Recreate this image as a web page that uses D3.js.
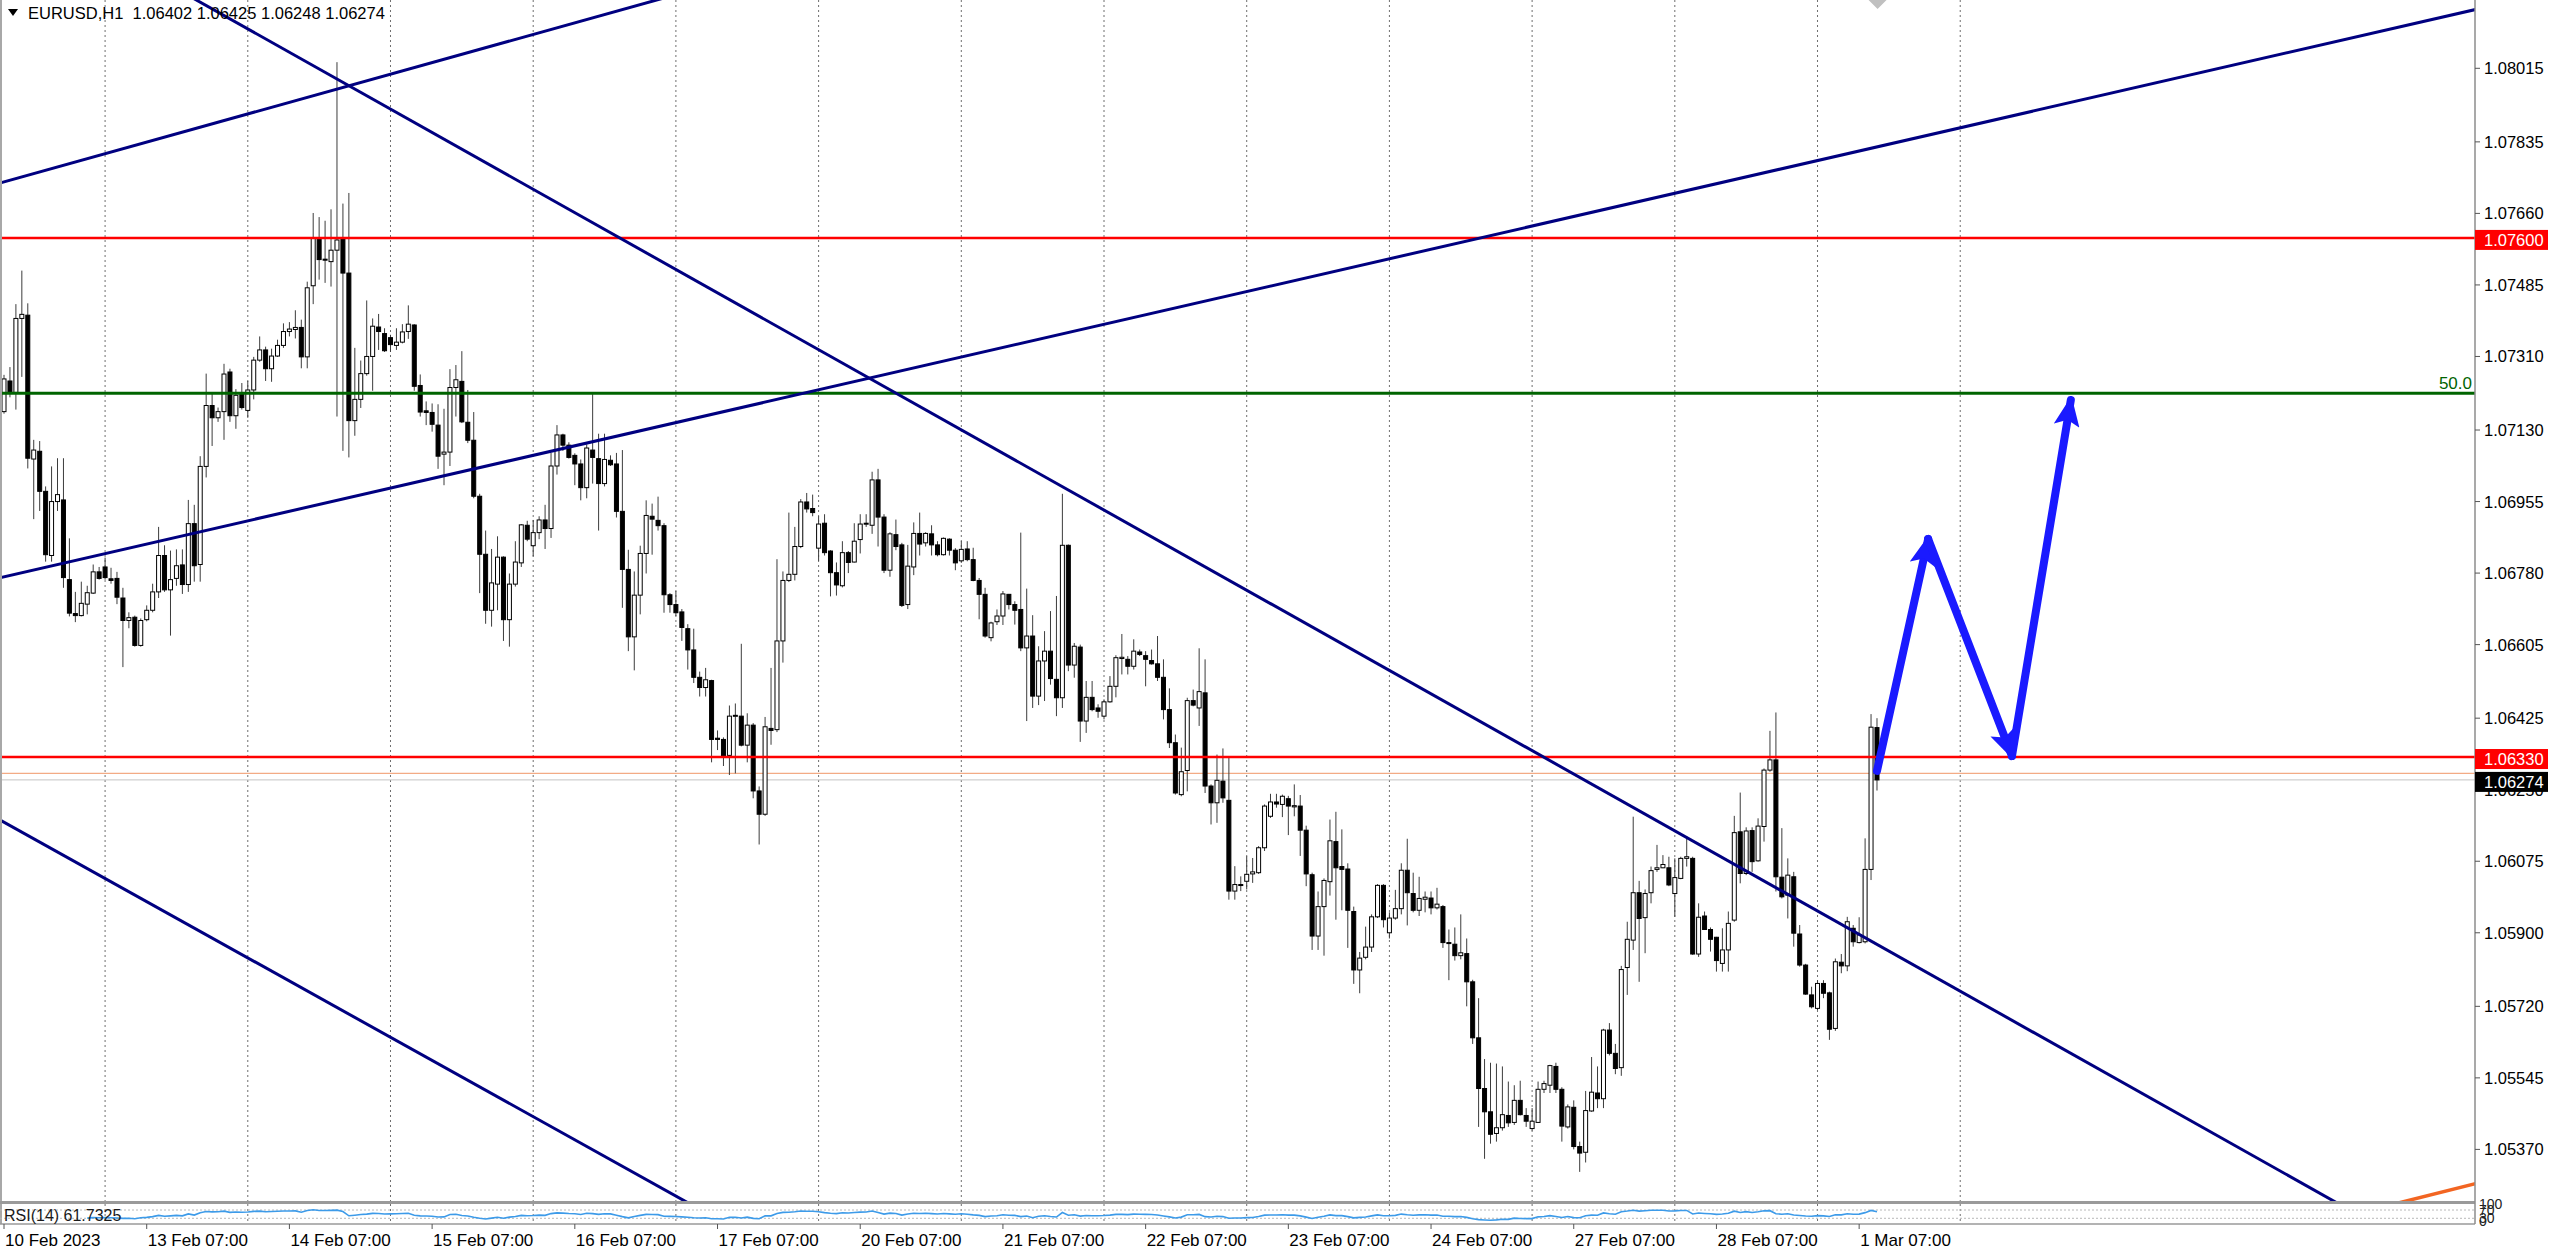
<!DOCTYPE html>
<html><head><meta charset="utf-8">
<script src="https://cdn.jsdelivr.net/npm/d3@7/dist/d3.min.js"></script>
<style>
html,body{margin:0;padding:0;background:#fff;overflow:hidden}
svg{display:block}
text{font-family:"Liberation Sans",Arial,sans-serif}
</style>
</head><body>
<svg id="chart" width="2560" height="1251"></svg>
<script>
// ---------------- DATA (EURUSD H1, bar 0 = 10 Feb 2023 07:00) ----------------
const openP=[
1.07175,1.07250,1.07222,1.07403,1.07411,1.07059,1.07078,1.06980,1.06823,1.06955,
1.06959,1.06764,1.06681,1.06676,1.06704,1.06731,1.06783,1.06795,1.06766,1.06767,
1.06719,1.06664,1.06672,1.06603,1.06666,1.06689,1.06734,1.06823,1.06739,1.06767,
1.06800,1.06752,1.06901,1.06801,1.07041,1.07190,1.07160,1.07175,1.07272,1.07165,
1.07217,1.07178,1.07228,1.07301,1.07326,1.07280,1.07311,1.07337,1.07371,1.07376,
1.07381,1.07309,1.07483,1.07599,1.07548,1.07542,1.07570,1.07598,1.07514,1.07153,
1.07205,1.07268,1.07310,1.07382,1.07366,1.07356,1.07337,1.07345,1.07371,1.07387,
1.07239,1.07177,1.07173,1.07142,1.07071,1.07076,1.07234,1.07249,1.07149,1.07105,
1.06968,1.06826,1.06689,1.06753,1.06819,1.06666,1.06753,1.06805,1.06897,1.06847,
1.06879,1.06910,1.06889,1.07042,1.07118,1.07093,1.07068,1.07047,1.06989,1.07081,
1.07060,1.06999,1.07056,1.07047,1.06931,1.06789,1.06624,1.06726,1.06828,1.06919,
1.06909,1.06896,1.06727,1.06703,1.06685,1.06644,1.06592,1.06525,1.06500,1.06517,
1.06376,1.06373,1.06334,1.06430,1.06430,1.06359,1.06408,1.06247,1.06190,1.06400,
1.06397,1.06614,1.06762,1.06777,1.06845,1.06954,1.06938,1.06841,1.06902,1.06834,
1.06781,1.06749,1.06830,1.06807,1.06862,1.06900,1.06897,1.07008,1.06917,1.06787,
1.06874,1.06849,1.06703,1.06795,1.06877,1.06854,1.06876,1.06849,1.06825,1.06863,
1.06836,1.06810,1.06839,1.06813,1.06762,1.06728,1.06622,1.06661,1.06675,1.06728,
1.06703,1.06691,1.06597,1.06626,1.06479,1.06565,1.06589,1.06520,1.06475,1.06848,
1.06555,1.06599,1.06418,1.06476,1.06450,1.06430,1.06465,1.06503,1.06571,1.06569,
1.06552,1.06587,1.06578,1.06566,1.06558,1.06525,1.06446,1.06365,1.06238,1.06297,
1.06468,1.06450,1.06487,1.06259,1.06218,1.06271,1.06224,1.06002,1.06018,1.06026,
1.06044,1.06047,1.06108,1.06185,1.06220,1.06214,1.06228,1.06208,1.06210,1.06151,
1.06042,1.05892,1.05964,1.06025,1.06123,1.06062,1.06056,1.05952,1.05809,1.05840,
1.05865,1.05939,1.06016,1.05900,1.05936,1.05959,1.06053,1.05996,1.05955,1.05982,
1.05985,1.05961,1.05964,1.05876,1.05872,1.05844,1.05849,1.05780,1.05643,1.05519,
1.05462,1.05409,1.05423,1.05453,1.05436,1.05490,1.05453,1.05421,1.05436,1.05517,
1.05527,1.05573,1.05517,1.05425,1.05473,1.05377,1.05363,1.05464,1.05508,1.05494,
1.05662,1.05605,1.05570,1.05815,1.05882,1.05998,1.05937,1.05998,1.06055,1.06059,
1.06059,1.05996,1.06033,1.06082,1.06082,1.05848,1.05941,1.05908,1.05889,1.05825,
1.05858,1.05931,1.06147,1.06045,1.06150,1.06076,1.06160,1.06298,1.06323,1.06036,
1.05992,1.06037,1.05897,1.05821,1.05748,1.05715,1.05776,1.05753,1.05666,1.05828,
1.05819,1.05911,1.05876,1.05878,1.06055,1.06402];
const highP=[
1.07265,1.07284,1.07438,1.07520,1.07440,1.07106,1.07103,1.06992,1.07041,1.07061,
1.07061,1.06865,1.06734,1.06759,1.06749,1.06801,1.06795,1.06818,1.06793,1.06783,
1.06744,1.06684,1.06676,1.06669,1.06701,1.06754,1.06893,1.06848,1.06835,1.06838,
1.06838,1.06959,1.06947,1.07066,1.07268,1.07220,1.07185,1.07292,1.07280,1.07230,
1.07245,1.07250,1.07309,1.07359,1.07334,1.07329,1.07351,1.07391,1.07394,1.07423,
1.07400,1.07493,1.07661,1.07651,1.07642,1.07670,1.08030,1.07684,1.07710,1.07331,
1.07300,1.07447,1.07403,1.07414,1.07379,1.07363,1.07379,1.07389,1.07435,1.07389,
1.07266,1.07200,1.07195,1.07193,1.07182,1.07279,1.07289,1.07323,1.07228,1.07174,
1.06974,1.06884,1.06839,1.06870,1.06821,1.06779,1.06858,1.06900,1.06908,1.06910,
1.06919,1.06947,1.07074,1.07142,1.07121,1.07100,1.07073,1.07058,1.07095,1.07218,
1.07121,1.07121,1.07068,1.07074,1.07081,1.06837,1.06784,1.06847,1.06958,1.06950,
1.06967,1.06902,1.06731,1.06736,1.06692,1.06655,1.06644,1.06539,1.06548,1.06519,
1.06395,1.06378,1.06456,1.06461,1.06607,1.06437,1.06413,1.06258,1.06428,1.06548,
1.06814,1.06784,1.06928,1.06893,1.06961,1.06976,1.06972,1.06919,1.06924,1.06836,
1.06806,1.06858,1.06834,1.06902,1.06924,1.06924,1.07028,1.07035,1.06924,1.06880,
1.06911,1.06854,1.06849,1.06904,1.06928,1.06880,1.06897,1.06858,1.06867,1.06865,
1.06841,1.06858,1.06858,1.06842,1.06768,1.06744,1.06661,1.06691,1.06736,1.06729,
1.06711,1.06879,1.06742,1.06677,1.06601,1.06638,1.06687,1.06724,1.06974,1.06850,
1.06609,1.06605,1.06516,1.06516,1.06459,1.06471,1.06528,1.06579,1.06631,1.06577,
1.06618,1.06593,1.06589,1.06593,1.06626,1.06569,1.06498,1.06385,1.06353,1.06475,
1.06495,1.06596,1.06569,1.06263,1.06336,1.06351,1.06330,1.06063,1.06038,1.06087,
1.06083,1.06112,1.06214,1.06240,1.06240,1.06238,1.06235,1.06263,1.06237,1.06162,
1.06047,1.06001,1.06033,1.06177,1.06196,1.06153,1.06070,1.05964,1.05853,1.05915,
1.05945,1.06019,1.06019,1.05950,1.06005,1.06070,1.06130,1.06047,1.06037,1.06001,
1.06001,1.06010,1.05968,1.05908,1.05913,1.05945,1.05886,1.05785,1.05740,1.05591,
1.05582,1.05580,1.05573,1.05536,1.05527,1.05538,1.05471,1.05471,1.05536,1.05538,
1.05577,1.05582,1.05522,1.05480,1.05490,1.05389,1.05513,1.05596,1.05573,1.05665,
1.05679,1.05628,1.05819,1.05927,1.06184,1.06027,1.06006,1.06062,1.06115,1.06090,
1.06086,1.06082,1.06086,1.06135,1.06086,1.05972,1.05952,1.05913,1.05890,1.05911,
1.05952,1.06186,1.06243,1.06158,1.06158,1.06180,1.06302,1.06394,1.06439,1.06156,
1.06082,1.06049,1.05919,1.05824,1.05768,1.05784,1.05784,1.05756,1.05837,1.05848,
1.05939,1.05919,1.05938,1.06131,1.06435,1.06425];
const lowP=[
1.07170,1.07210,1.07180,1.07260,1.07036,1.06912,1.06932,1.06808,1.06808,1.06932,
1.06744,1.06674,1.06660,1.06674,1.06679,1.06729,1.06764,1.06764,1.06754,1.06704,
1.06550,1.06645,1.06600,1.06600,1.06662,1.06684,1.06719,1.06734,1.06627,1.06749,
1.06729,1.06734,1.06759,1.06759,1.07014,1.07091,1.07150,1.07106,1.07150,1.07133,
1.07180,1.07160,1.07205,1.07297,1.07250,1.07248,1.07309,1.07331,1.07359,1.07354,
1.07281,1.07281,1.07438,1.07498,1.07490,1.07481,1.07163,1.07079,1.07063,1.07116,
1.07184,1.07263,1.07226,1.07326,1.07321,1.07321,1.07326,1.07342,1.07353,1.07226,
1.07163,1.07142,1.07126,1.07035,1.06995,1.07042,1.07163,1.07147,1.07098,1.06963,
1.06731,1.06656,1.06649,1.06689,1.06614,1.06600,1.06747,1.06795,1.06858,1.06821,
1.06863,1.06839,1.06866,1.07021,1.07079,1.07060,1.06995,1.06958,1.06963,1.06999,
1.06884,1.06992,1.07042,1.06916,1.06695,1.06589,1.06542,1.06679,1.06779,1.06825,
1.06884,1.06683,1.06683,1.06675,1.06614,1.06544,1.06511,1.06478,1.06478,1.06317,
1.06347,1.06308,1.06286,1.06290,1.06356,1.06317,1.06229,1.06116,1.06186,1.06360,
1.06391,1.06561,1.06758,1.06762,1.06841,1.06928,1.06919,1.06810,1.06823,1.06723,
1.06725,1.06745,1.06780,1.06806,1.06828,1.06893,1.06876,1.06845,1.06780,1.06771,
1.06836,1.06697,1.06692,1.06775,1.06823,1.06845,1.06823,1.06821,1.06823,1.06823,
1.06787,1.06805,1.06809,1.06760,1.06667,1.06622,1.06613,1.06653,1.06653,1.06691,
1.06654,1.06589,1.06418,1.06450,1.06457,1.06467,1.06507,1.06430,1.06450,1.06540,
1.06524,1.06367,1.06389,1.06442,1.06426,1.06422,1.06463,1.06476,1.06532,1.06532,
1.06544,1.06577,1.06503,1.06556,1.06516,1.06422,1.06352,1.06238,1.06234,1.06246,
1.06454,1.06406,1.06242,1.06165,1.06169,1.06218,1.05981,1.05981,1.06002,1.06006,
1.06022,1.06044,1.06100,1.06181,1.06206,1.06183,1.06139,1.06185,1.06088,1.06014,
1.05858,1.05858,1.05844,1.05991,1.05932,1.05955,1.05863,1.05775,1.05752,1.05835,
1.05853,1.05936,1.05913,1.05886,1.05932,1.05945,1.05918,1.05950,1.05941,1.05950,
1.05945,1.05957,1.05863,1.05784,1.05832,1.05835,1.05720,1.05628,1.05425,1.05347,
1.05384,1.05389,1.05416,1.05425,1.05430,1.05453,1.05425,1.05416,1.05435,1.05508,
1.05508,1.05508,1.05389,1.05421,1.05370,1.05315,1.05338,1.05462,1.05471,1.05471,
1.05600,1.05554,1.05550,1.05748,1.05858,1.05780,1.05850,1.05972,1.06049,1.06058,
1.06014,1.05939,1.06031,1.06062,1.05846,1.05841,1.05907,1.05854,1.05805,1.05805,
1.05805,1.05927,1.06021,1.06041,1.06049,1.06074,1.06123,1.06294,1.06001,1.05984,
1.05935,1.05866,1.05817,1.05748,1.05715,1.05711,1.05740,1.05638,1.05660,1.05801,
1.05806,1.05866,1.05874,1.05874,1.06029,1.06248];
const closeP=[
1.07255,1.07222,1.07403,1.07413,1.07061,1.07081,1.06980,1.06825,1.06955,1.06972,
1.06769,1.06682,1.06676,1.06706,1.06732,1.06783,1.06767,1.06769,1.06762,1.06721,
1.06664,1.06671,1.06603,1.06664,1.06689,1.06734,1.06823,1.06739,1.06764,1.06798,
1.06752,1.06901,1.06798,1.07041,1.07190,1.07160,1.07175,1.07267,1.07165,1.07215,
1.07185,1.07228,1.07301,1.07326,1.07280,1.07311,1.07337,1.07371,1.07377,1.07381,
1.07309,1.07478,1.07599,1.07547,1.07546,1.07570,1.07595,1.07514,1.07153,1.07205,
1.07268,1.07310,1.07384,1.07371,1.07324,1.07339,1.07345,1.07370,1.07389,1.07237,
1.07174,1.07173,1.07144,1.07066,1.07076,1.07234,1.07253,1.07150,1.07105,1.06968,
1.06826,1.06689,1.06756,1.06819,1.06666,1.06753,1.06807,1.06898,1.06863,1.06879,
1.06910,1.06889,1.07042,1.07118,1.07093,1.07063,1.07047,1.06989,1.07086,1.07063,
1.06999,1.07058,1.07045,1.06931,1.06789,1.06624,1.06726,1.06828,1.06921,1.06912,
1.06896,1.06727,1.06703,1.06683,1.06647,1.06592,1.06525,1.06500,1.06519,1.06373,
1.06373,1.06332,1.06430,1.06432,1.06359,1.06408,1.06247,1.06190,1.06404,1.06395,
1.06614,1.06762,1.06777,1.06845,1.06954,1.06937,1.06928,1.06900,1.06830,1.06781,
1.06751,1.06830,1.06806,1.06858,1.06900,1.06902,1.07008,1.06917,1.06787,1.06876,
1.06845,1.06701,1.06797,1.06877,1.06851,1.06877,1.06849,1.06825,1.06865,1.06836,
1.06805,1.06838,1.06813,1.06762,1.06728,1.06626,1.06658,1.06675,1.06729,1.06703,
1.06689,1.06597,1.06626,1.06479,1.06565,1.06589,1.06522,1.06475,1.06848,1.06555,
1.06601,1.06418,1.06476,1.06446,1.06442,1.06465,1.06503,1.06573,1.06574,1.06552,
1.06589,1.06581,1.06569,1.06558,1.06525,1.06446,1.06365,1.06242,1.06294,1.06468,
1.06457,1.06490,1.06259,1.06218,1.06273,1.06230,1.06002,1.06018,1.06016,1.06043,
1.06049,1.06108,1.06210,1.06220,1.06215,1.06234,1.06210,1.06211,1.06151,1.06044,
1.05892,1.05964,1.06028,1.06125,1.06059,1.06055,1.05955,1.05809,1.05838,1.05865,
1.05939,1.06016,1.05932,1.05936,1.05959,1.06053,1.05998,1.05955,1.05984,1.05987,
1.05961,1.05970,1.05876,1.05874,1.05844,1.05851,1.05780,1.05643,1.05519,1.05462,
1.05407,1.05423,1.05455,1.05435,1.05490,1.05455,1.05439,1.05439,1.05517,1.05531,
1.05575,1.05517,1.05427,1.05474,1.05377,1.05361,1.05465,1.05510,1.05494,1.05662,
1.05605,1.05568,1.05810,1.05884,1.05998,1.05935,1.05996,1.06052,1.06059,1.06067,
1.06017,1.06035,1.06082,1.06086,1.05848,1.05938,1.05908,1.05884,1.05832,1.05858,
1.05923,1.06145,1.06045,1.06149,1.06074,1.06161,1.06298,1.06323,1.06037,1.05988,
1.06041,1.05899,1.05821,1.05750,1.05719,1.05776,1.05752,1.05664,1.05829,1.05819,
1.05927,1.05878,1.05895,1.06055,1.06403,1.06274];

const headerText = "EURUSD,H1  1.06402 1.06425 1.06248 1.06274";
const priceTicks = [1.08015,1.07835,1.07660,1.07485,1.07310,1.07130,1.06955,1.06780,
                    1.06605,1.06425,1.06250,1.06075,1.05900,1.05720,1.05545,1.05370];
const dateLabels = ["10 Feb 2023","13 Feb 07:00","14 Feb 07:00","15 Feb 07:00","16 Feb 07:00",
  "17 Feb 07:00","20 Feb 07:00","21 Feb 07:00","22 Feb 07:00","23 Feb 07:00","24 Feb 07:00",
  "27 Feb 07:00","28 Feb 07:00","1 Mar 07:00"];
const dateLabelBars = [0,24,48,72,96,120,144,168,192,216,240,264,288,312];
const dayStartBars = [17,41,65,89,113,137,161,185,209,233,257,281,305,329];
const redLevels = [1.07600, 1.06330];
const fiboLevel = 1.07220;
const fiboText = "50.0";
const bidPrice = 1.06274;
const askPrice = 1.06290;
// trend lines: [[bar, price],[bar, price]]
const trendLines = [
  [[-0.67,1.077345],[109.8,1.081822]],
  [[-0.17,1.067704],[414.6,1.081553]],
  [[32.96,1.081771],[391.5,1.052461]],
  [[-0.67,1.061759],[114.2,1.052461]]
];
const regressionLine = [[403.5,1.052419],[415.4,1.052852]];
const forecastPath = [[315,1.06296],[323.6,1.068634],[337.7,1.063324],[347.6,1.072035]];
const rsiPeriod = 14;
const rsiLevels = [70,30];
const rsiAxisLabels = [["100",100],["70",70],["30",30],["0",0]];
const rsiLabel = "RSI(14) 61.7325";
const diamondBar = 315.1;

// ---------------- LAYOUT ----------------
const W=2560, H=1251, PX=2475, mainBottom=1201, rsiTop=1204, rsiBottom=1224;
const svg = d3.select("#chart");
svg.append("rect").attr("width",W).attr("height",H).attr("fill","#fff");

const x = d3.scaleLinear().domain([0,315]).range([4, 4+315*5.946]);
const y = d3.scaleLinear().domain([1.05370,1.08015]).range([1149.4,68.3]);
const ry = d3.scaleLinear().domain([0,100]).range([1224.5,1203.8]);

const defs = svg.append("defs");
defs.append("clipPath").attr("id","mainClip").append("rect").attr("x",0).attr("y",0).attr("width",PX).attr("height",mainBottom);
defs.append("clipPath").attr("id","rsiClip").append("rect").attr("x",0).attr("y",rsiTop).attr("width",PX).attr("height",rsiBottom-rsiTop);
defs.append("marker").attr("id","arrowHead").attr("markerUnits","userSpaceOnUse")
  .attr("markerWidth",34).attr("markerHeight",26).attr("refX",26).attr("refY",13).attr("orient","auto")
  .append("path").attr("d","M0,0 L30,13 L0,26 L6,13 Z").attr("fill","#1a1aff");

// vertical dotted grid
const grid = svg.append("g");
dayStartBars.forEach(b=>{
  grid.append("line").attr("x1",x(b)).attr("x2",x(b)).attr("y1",0).attr("y2",mainBottom)
    .attr("stroke","#6e6e6e").attr("stroke-width",1).attr("stroke-dasharray","2,3");
  grid.append("line").attr("x1",x(b)).attr("x2",x(b)).attr("y1",rsiTop).attr("y2",rsiBottom)
    .attr("stroke","#6e6e6e").attr("stroke-width",1).attr("stroke-dasharray","2,3");
});

const main = svg.append("g").attr("clip-path","url(#mainClip)");

// bid / ask lines
main.append("line").attr("x1",0).attr("x2",PX).attr("y1",y(bidPrice)).attr("y2",y(bidPrice))
  .attr("stroke","#c4c4c4").attr("stroke-width",1);
main.append("line").attr("x1",0).attr("x2",PX).attr("y1",y(askPrice)).attr("y2",y(askPrice))
  .attr("stroke","#f3ab85").attr("stroke-width",1.2);

// candles
const bars = d3.range(openP.length);
const cg = main.append("g");
cg.selectAll("line.wick").data(bars).join("line").attr("class","wick")
  .attr("x1",i=>x(i)).attr("x2",i=>x(i))
  .attr("y1",i=>y(Math.max(highP[i],openP[i],closeP[i])))
  .attr("y2",i=>y(Math.min(lowP[i],openP[i],closeP[i])))
  .attr("stroke","#3c3c3c").attr("stroke-width",1);
cg.selectAll("rect.body").data(bars).join("rect").attr("class","body")
  .attr("x",i=>x(i)-2).attr("width",4)
  .attr("y",i=>y(Math.max(openP[i],closeP[i])))
  .attr("height",i=>Math.max(1,y(Math.min(openP[i],closeP[i]))-y(Math.max(openP[i],closeP[i]))))
  .attr("fill",i=>closeP[i]>=openP[i]?"#fff":"#000")
  .attr("stroke","#000").attr("stroke-width",1);

// horizontal levels
redLevels.forEach(p=>{
  main.append("line").attr("x1",0).attr("x2",PX).attr("y1",y(p)).attr("y2",y(p))
    .attr("stroke","#ff0000").attr("stroke-width",2.5);
});
main.append("line").attr("x1",0).attr("x2",PX).attr("y1",y(fiboLevel)).attr("y2",y(fiboLevel))
  .attr("stroke","#006400").attr("stroke-width",3);
main.append("text").attr("x",PX-3).attr("y",y(fiboLevel)-4).attr("text-anchor","end")
  .attr("font-size",17).attr("fill","#006400").text(fiboText);

// trend lines (extended across the panel)
function extLine(seg, stroke, w){
  const [a,b] = seg;
  const x1=x(a[0]), y1=y(a[1]), x2=x(b[0]), y2=y(b[1]);
  const k=(y2-y1)/(x2-x1);
  const xa=-20, xb=PX+20;
  main.append("line").attr("x1",xa).attr("y1",y1+k*(xa-x1)).attr("x2",xb).attr("y2",y1+k*(xb-x1))
    .attr("stroke",stroke).attr("stroke-width",w);
}
trendLines.forEach(s=>extLine(s,"#000080",3));
extLine(regressionLine,"#f26522",3.5);

// forecast arrows
for(let k=0;k<forecastPath.length-1;k++){
  const a=forecastPath[k], b=forecastPath[k+1];
  main.append("line").attr("x1",x(a[0])).attr("y1",y(a[1])).attr("x2",x(b[0])).attr("y2",y(b[1]))
    .attr("stroke","#1a1aff").attr("stroke-width",8).attr("stroke-linecap","round")
    .attr("marker-end","url(#arrowHead)");
}

// small gray diamond at top
const dx = x(diamondBar);
main.append("path").attr("d",`M${dx-9},0 L${dx},9 L${dx+9},0 L${dx},-9 Z`).attr("fill","#c0c0c0");

// header
svg.append("path").attr("d","M8,9 L18,9 L13,16 Z").attr("fill","#000");
svg.append("text").attr("x",28).attr("y",19).attr("font-size",16.5).attr("fill","#000")
  .style("white-space","pre").text(headerText);

// panel frame
svg.append("rect").attr("x",0).attr("y",0).attr("width",2).attr("height",rsiBottom).attr("fill","#a8a8a8");
svg.append("rect").attr("x",0).attr("y",mainBottom).attr("width",PX).attr("height",3).attr("fill","#9a9a9a");
svg.append("line").attr("x1",0).attr("x2",PX).attr("y1",rsiBottom).attr("y2",rsiBottom).attr("stroke","#9a9a9a").attr("stroke-width",1.5);
svg.append("line").attr("x1",PX).attr("x2",PX).attr("y1",0).attr("y2",rsiBottom).attr("stroke","#8c8c8c").attr("stroke-width",1.5);

// RSI panel
const rsiG = svg.append("g").attr("clip-path","url(#rsiClip)");
rsiLevels.forEach(v=>{
  rsiG.append("line").attr("x1",0).attr("x2",PX).attr("y1",ry(v)).attr("y2",ry(v))
    .attr("stroke","#b8b8b8").attr("stroke-width",1).attr("stroke-dasharray","2,2");
});
function rsiCalc(c,n){
  const out=new Array(c.length).fill(null); let g=0,l=0;
  for(let i=1;i<=n;i++){const d=c[i]-c[i-1]; if(d>0)g+=d; else l-=d;}
  g/=n; l/=n; out[n]=l===0?100:100-100/(1+g/l);
  for(let i=n+1;i<c.length;i++){const d=c[i]-c[i-1];
    g=(g*(n-1)+Math.max(d,0))/n; l=(l*(n-1)+Math.max(-d,0))/n;
    out[i]=l===0?100:100-100/(1+g/l);}
  return out;
}
const rsiVals = rsiCalc(closeP, rsiPeriod);
rsiG.append("path").datum(bars.filter(i=>rsiVals[i]!==null))
  .attr("d",d3.line().x(i=>x(i)).y(i=>ry(rsiVals[i])))
  .attr("fill","none").attr("stroke","#3d9be9").attr("stroke-width",1.6);
svg.append("text").attr("x",4).attr("y",1221).attr("font-size",16).attr("fill","#1a1a1a").text(rsiLabel);

// right price axis
const ax = svg.append("g");
priceTicks.forEach(p=>{
  ax.append("line").attr("x1",PX).attr("x2",PX+5).attr("y1",y(p)).attr("y2",y(p)).attr("stroke","#555");
  ax.append("text").attr("x",PX+9).attr("y",y(p)+6).attr("font-size",16.5).attr("fill","#000")
    .text(d3.format(".5f")(p));
});
function priceBox(p, bg, txt){
  const yy=y(p)+2;
  ax.append("rect").attr("x",PX).attr("y",yy-10).attr("width",73).attr("height",20).attr("fill",bg);
  ax.append("text").attr("x",PX+9).attr("y",yy+6).attr("font-size",16.5).attr("fill","#fff").text(txt);
}
redLevels.forEach(p=>priceBox(p,"#ff0000",d3.format(".5f")(p)));
priceBox(bidPrice,"#000000",d3.format(".5f")(bidPrice));
rsiAxisLabels.forEach(([t,v])=>{
  ax.append("text").attr("x",PX+4).attr("y",Math.min(1226,ry(v)+5)).attr("font-size",14).attr("fill","#222").text(t);
});

// time axis
dateLabels.forEach((t,k)=>{
  const xx=x(dateLabelBars[k]);
  svg.append("line").attr("x1",xx).attr("x2",xx).attr("y1",rsiBottom).attr("y2",rsiBottom+5).attr("stroke","#555");
  svg.append("text").attr("x",xx+1).attr("y",1246).attr("font-size",17).attr("fill","#000").text(t);
});
</script>
</body></html>
